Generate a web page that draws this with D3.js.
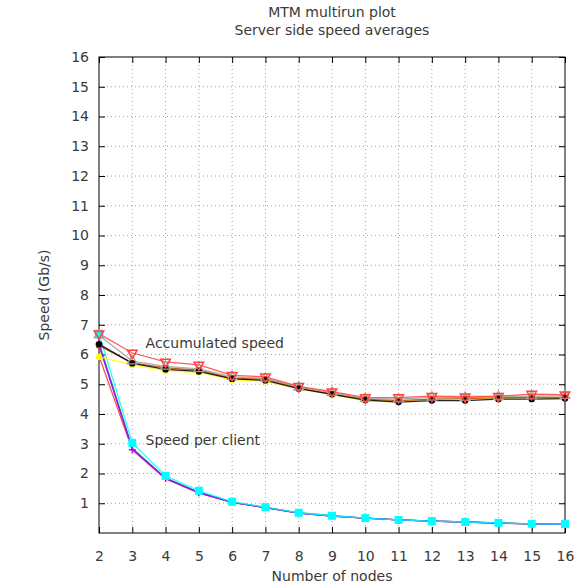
<!DOCTYPE html>
<html>
<head>
<meta charset="utf-8">
<script src="https://cdn.jsdelivr.net/npm/d3@7"></script>
<style>
  body { margin: 0; background: #fff; }
  text { font-family: "DejaVu Sans", sans-serif; }
</style>
</head>
<body>
<div id="chart"></div>
<script>
// nodes on the x axis
const nodes = [2, 3, 4, 5, 6, 7, 8, 9, 10, 11, 12, 13, 14, 15, 16];
const xTicks = [2, 3, 4, 5, 6, 7, 8, 9, 10, 11, 12, 13, 14, 15, 16];
const yTicks = [1, 2, 3, 4, 5, 6, 7, 8, 9, 10, 11, 12, 13, 14, 15, 16];

// accumulated speed runs
const accRed    = [6.70, 6.05, 5.75, 5.65, 5.30, 5.25, 4.93, 4.75, 4.55, 4.55, 4.60, 4.58, 4.60, 4.67, 4.65];
const accGray   = [6.65, 5.78, 5.60, 5.52, 5.25, 5.20, 4.90, 4.72, 4.52, 4.50, 4.56, 4.55, 4.58, 4.60, 4.62];
const accSienna = [6.30, 5.72, 5.55, 5.47, 5.20, 5.17, 4.88, 4.68, 4.50, 4.45, 4.50, 4.52, 4.55, 4.56, 4.56];
const accBlack  = [6.35, 5.70, 5.50, 5.43, 5.18, 5.13, 4.85, 4.66, 4.47, 4.40, 4.45, 4.45, 4.50, 4.50, 4.52];
const accYellow = [5.92, 5.65, 5.45, 5.40, 5.15, 5.10, 4.85, 4.65, 4.45, 4.45, 4.50, 4.50, 4.53, 4.55, 4.52];

// speed per client runs
const pcRed     = [5.95, 2.80, 1.82, 1.35, 1.03, 0.85, 0.67, 0.57, 0.50, 0.44, 0.40, 0.37, 0.33, 0.31, 0.29];
const pcGreen   = [6.40, 2.85, 1.85, 1.37, 1.04, 0.86, 0.68, 0.58, 0.50, 0.44, 0.40, 0.37, 0.34, 0.31, 0.30];
const pcBlue    = [6.30, 2.83, 1.84, 1.36, 1.03, 0.85, 0.67, 0.57, 0.50, 0.44, 0.40, 0.37, 0.33, 0.31, 0.29];
const pcMagenta = [6.35, 2.80, 1.83, 1.35, 1.03, 0.85, 0.67, 0.57, 0.50, 0.44, 0.40, 0.37, 0.33, 0.31, 0.29];
const pcCyan    = [6.70, 3.03, 1.92, 1.42, 1.05, 0.87, 0.68, 0.58, 0.50, 0.44, 0.40, 0.37, 0.34, 0.31, 0.30];

const series = [
  { values: pcRed,     color: "#ff3030", marker: "none" },
  { values: pcGreen,   color: "#00c000", marker: "none" },
  { values: pcBlue,    color: "#2040ff", marker: "none" },
  { values: pcMagenta, color: "#c000ff", marker: "plus" },
  { values: pcCyan,    color: "#00ffff", marker: "square" },
  { values: accYellow, color: "#ffff00", marker: "circle" },
  { values: accSienna, color: "#c04000", marker: "circle" },
  { values: accBlack,  color: "#000000", marker: "circle" },
  { values: accGray,   color: "#a0a0a0", marker: "triUp" },
  { values: accRed,    color: "#ff4040", marker: "triDown" }
];

const W = 580, H = 583;
const margin = { top: 57, right: 15, bottom: 50, left: 99 };
const width = W - margin.left - margin.right,
      height = H - margin.top - margin.bottom;

const svg = d3.select("#chart").append("svg")
  .attr("width", W).attr("height", H);

const g = svg.append("g").attr("transform", `translate(${margin.left},${margin.top})`);

const x = d3.scaleLinear().domain([2, 16]).range([0, width]);
const y = d3.scaleLinear().domain([0, 16]).range([height, 0]);

// grid
g.append("g").selectAll("line").data(xTicks.filter(d => d > 2 && d < 16)).enter().append("line")
  .attr("x1", d => x(d)).attr("x2", d => x(d)).attr("y1", 0).attr("y2", height)
  .attr("stroke", "#a0a0a0").attr("stroke-width", 1).attr("stroke-dasharray", "1,3");
g.append("g").selectAll("line").data(yTicks.filter(d => d < 16)).enter().append("line")
  .attr("y1", d => y(d)).attr("y2", d => y(d)).attr("x1", 0).attr("x2", width)
  .attr("stroke", "#a0a0a0").attr("stroke-width", 1).attr("stroke-dasharray", "1,3");

// axes with inward ticks
const xAxis = g.append("g").attr("transform", `translate(0,${height})`)
  .call(d3.axisBottom(x).tickValues(xTicks).tickSize(-6).tickPadding(18).tickSizeOuter(0));
const yAxis = g.append("g")
  .call(d3.axisLeft(y).tickValues(yTicks).tickSize(-6).tickPadding(10).tickSizeOuter(0));
const yAxisR = g.append("g").attr("transform", `translate(${width},0)`)
  .call(d3.axisRight(y).tickValues(yTicks).tickSize(-6).tickFormat("").tickSizeOuter(0));
const xAxisT = g.append("g")
  .call(d3.axisTop(x).tickValues(xTicks).tickSize(-6).tickFormat("").tickSizeOuter(0));

[xAxis, yAxis, yAxisR, xAxisT].forEach(a => {
  a.select(".domain").remove();
  a.selectAll("line").attr("stroke", "#000");
  a.selectAll("text").attr("font-size", 14).attr("fill", "#3a3a3a")
    .attr("font-family", "DejaVu Sans, sans-serif");
});

// border
g.append("rect").attr("width", width).attr("height", height)
  .attr("fill", "none").attr("stroke", "#000").attr("stroke-width", 1);

// lines
const line = d3.line().x((d, i) => x(nodes[i])).y(d => y(d));

series.forEach(s => {
  g.append("path").datum(s.values)
    .attr("d", line).attr("fill", "none")
    .attr("stroke", s.color).attr("stroke-width", 1.3).attr("stroke-opacity", 0.85);
});

const tri = d3.symbol().type(d3.symbolTriangle).size(40);
series.forEach(s => {
  const m = g.append("g");
  s.values.forEach((v, i) => {
    const cx = x(nodes[i]), cy = y(v);
    if (s.marker === "square") {
      m.append("rect").attr("x", cx - 4).attr("y", cy - 4).attr("width", 8).attr("height", 8)
        .attr("fill", s.color);
    } else if (s.marker === "circle") {
      m.append("circle").attr("cx", cx).attr("cy", cy).attr("r", 3.2).attr("fill", s.color);
    } else if (s.marker === "plus") {
      m.append("path").attr("d", `M${cx - 3.5},${cy}H${cx + 3.5}M${cx},${cy - 3.5}V${cy + 3.5}`)
        .attr("stroke", s.color).attr("stroke-width", 1.5);
    } else if (s.marker === "triUp") {
      m.append("path").attr("d", tri()).attr("transform", `translate(${cx},${cy})`)
        .attr("fill", "none").attr("stroke", s.color).attr("stroke-width", 1.3);
    } else if (s.marker === "triDown") {
      m.append("path").attr("d", tri()).attr("transform", `translate(${cx},${cy}) rotate(180)`)
        .attr("fill", "none").attr("stroke", s.color).attr("stroke-width", 1.5);
    }
  });
});

// in-plot labels
g.append("text").attr("x", x(3.4)).attr("y", y(6.22)).attr("font-size", 14).attr("fill", "#3a3a3a")
  .text("Accumulated speed");
g.append("text").attr("x", x(3.4)).attr("y", y(2.97)).attr("font-size", 14).attr("fill", "#3a3a3a")
  .text("Speed per client");

// titles
svg.append("text").attr("x", margin.left + width / 2).attr("y", 17).attr("text-anchor", "middle")
  .attr("font-size", 14).attr("fill", "#3a3a3a").text("MTM multirun plot");
svg.append("text").attr("x", margin.left + width / 2).attr("y", 35).attr("text-anchor", "middle")
  .attr("font-size", 14).attr("fill", "#3a3a3a").text("Server side speed averages");
svg.append("text").attr("x", margin.left + width / 2).attr("y", 581).attr("text-anchor", "middle")
  .attr("font-size", 14).attr("fill", "#3a3a3a").text("Number of nodes");
svg.append("text").attr("transform", `translate(49,${margin.top + height / 2}) rotate(-90)`)
  .attr("text-anchor", "middle").attr("font-size", 14).attr("fill", "#3a3a3a").text("Speed (Gb/s)");
</script>
</body>
</html>
